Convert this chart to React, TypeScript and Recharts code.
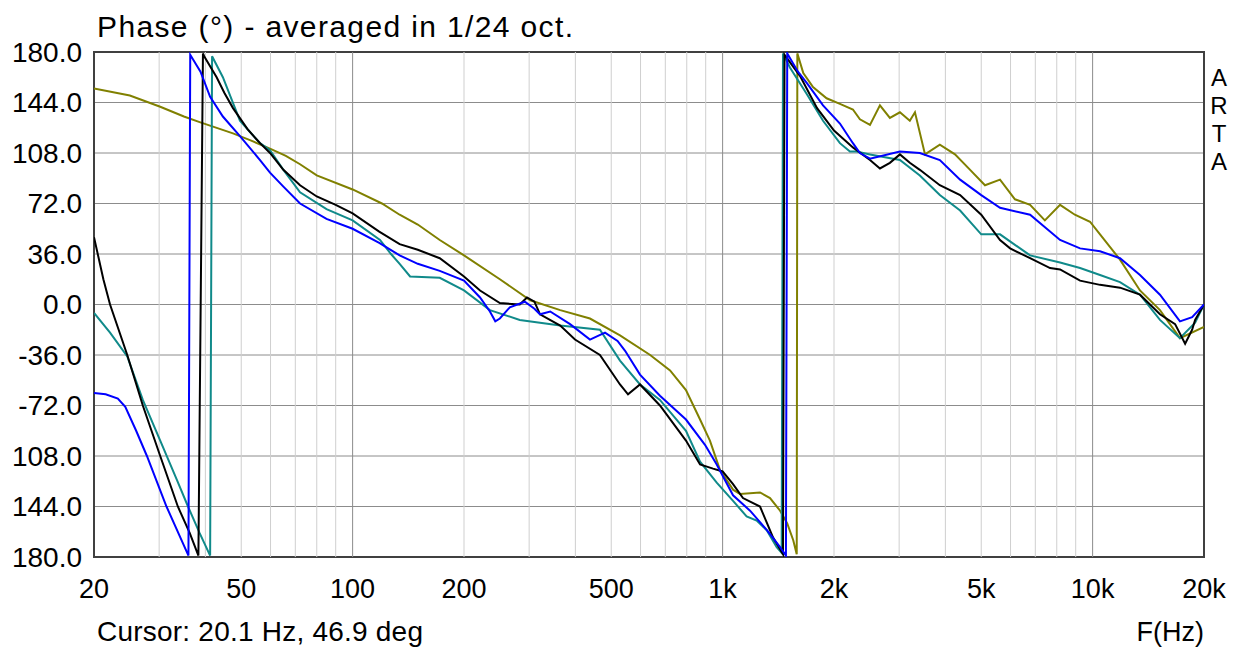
import {
  LineChart,
  Line,
  XAxis,
  YAxis,
  CartesianGrid,
  ReferenceLine,
  ReferenceArea,
} from "recharts";

const FONT = '"Liberation Sans", Arial, sans-serif';

// frequency (Hz), phase (deg)
const blackPts: [number, number][] = [
  [20, 48], [21.2, 18], [22.1, 0], [24.6, -36], [27.1, -72], [30.2, -108],
  [33.7, -144], [36.3, -163], [38.3, -179], [39.4, 179], [39.7, 177],
  [42.9, 162], [45, 151], [47.5, 140], [52, 125], [56.2, 115], [59.8, 108],
  [65, 96], [72.1, 85], [80, 77], [90, 71], [100, 65], [118, 52], [134, 43],
  [150, 39], [172, 33], [200, 20], [221, 10], [250, 1], [283, 0],
  [296, 5], [310, 2], [321, -7], [364, -15], [399, -25], [466, -36],
  [528, -57], [555, -64], [598, -57], [677, -72], [796, -97], [869, -114],
  [942, -117], [1000, -119], [1067, -128], [1135, -138], [1262, -144],
  [1319, -156], [1368, -166], [1456, -178], [1470, 178], [1618, 163],
  [1800, 140], [2000, 124], [2250, 112], [2502, 103], [2662, 97],
  [2832, 101], [3014, 107], [3206, 101], [3412, 96], [3864, 85],
  [4384, 78], [5000, 64], [5620, 46], [5984, 40], [6776, 33], [7674, 26],
  [8166, 25], [9248, 17], [10472, 14], [11858, 12], [13428, 7], [15206, -7],
  [16708, -14], [17784, -28], [18578, -18], [18924, -11], [20000, 0],
];

const bluePts: [number, number][] = [
  [20, -63], [21.5, -64], [23.2, -67], [24.3, -73], [26, -90], [27.8, -108],
  [31.4, -144], [36.0, -179], [36.4, 178], [38.8, 166], [41.2, 148],
  [44.6, 134], [49.6, 120], [56.2, 103], [59.8, 94], [65, 84], [72.1, 72],
  [85, 61], [100, 54], [118, 44], [134, 35], [150, 29], [172, 24], [200, 17],
  [221, 5], [235, -5], [243, -12],
  [250, -10], [266, -2], [292, 2], [310, -3], [321, -7], [342, -5],
  [387, -14], [438, -25], [481, -20], [520, -26], [545, -33], [598, -50],
  [677, -65], [796, -82], [896, -100], [964, -114], [1067, -136],
  [1186, -147], [1319, -161], [1430, -173], [1483, -179], [1495, 179],
  [1598, 166], [1688, 158], [1868, 142], [2075, 129], [2250, 115],
  [2350, 108], [2502, 104], [3014, 109], [3412, 108], [3864, 103],
  [4384, 89], [5000, 78], [5620, 69], [6776, 64], [8166, 46], [9248, 40],
  [10472, 38], [11858, 33], [13428, 21], [15206, 7], [17220, -12],
  [18578, -9], [20000, 0],
];

const tealPts: [number, number][] = [
  [20, -6], [22.1, -20], [24.6, -37], [27.1, -68], [30.2, -97], [33.5, -125],
  [35.9, -144], [38.6, -163], [41.2, -179], [41.7, 177], [44.6, 162],
  [49.6, 131], [56.2, 115], [59.8, 110], [65, 96], [72.1, 80], [85, 68],
  [100, 60], [118.6, 46], [127, 36], [134, 29], [143, 20], [172, 19],
  [200, 10], [235, -4], [283, -11],
  [364, -15], [466, -18], [528, -40], [598, -57], [677, -68], [796, -90],
  [869, -112], [964, -127], [1067, -140], [1161, -151], [1236, -154],
  [1316, -161], [1400, -173], [1444, -177], [1456, 179], [1520, 169],
  [1688, 150], [1868, 131], [2075, 115], [2208, 109], [2302, 109],
  [2502, 107], [3014, 103], [3412, 92], [3864, 78], [4384, 67], [5000, 50],
  [5620, 50], [6776, 35], [8166, 30], [9248, 26], [10472, 21], [11858, 16],
  [13428, 7], [15206, -11], [17220, -24], [18924, -13], [20000, 0],
];

const olivePts: [number, number][] = [
  [20, 154], [25, 149], [30.2, 141], [35, 134], [38.6, 130], [47.5, 122],
  [53, 117], [60, 111], [66, 106], [72.1, 100], [80, 92], [100, 82],
  [120, 72], [134, 64], [150, 57], [172, 46], [200, 35], [250, 18],
  [302, 3], [364, -4], [438, -10], [528, -22], [637, -36], [721, -47],
  [796, -61], [869, -82], [924, -97], [984, -118], [1067, -132],
  [1114, -135], [1262, -134], [1343, -138], [1430, -147], [1495, -156],
  [1552, -168], [1586, -178], [1592, 179], [1652, 165], [1755, 155],
  [1910, 147], [2075, 143], [2250, 139], [2350, 132], [2502, 128],
  [2662, 142], [2832, 133], [3014, 137], [3206, 131], [3310, 137],
  [3524, 107], [3864, 114], [4246, 107], [4666, 96], [5118, 85],
  [5620, 89], [6168, 75], [6776, 71], [7430, 60], [8166, 71], [8954, 64],
  [9840, 59], [10472, 50], [11858, 32], [13428, 10], [15206, -4],
  [17220, -24], [20000, -16],
];

const xTicks = [20, 50, 100, 200, 500, 1000, 2000, 5000, 10000, 20000];
const xTickLabels = ["20", "50", "100", "200", "500", "1k", "2k", "5k", "10k", "20k"];
const yTicks = [-180, -144, -108, -72, -36, 0, 36, 72, 108, 144, 180];
const yTickLabels = ["180.0", "144.0", "108.0", "-72.0", "-36.0", "0.0", "36.0", "72.0", "108.0", "144.0", "180.0"];
const minorGridHz = [
  30, 40, 50, 60, 70, 80, 90, 200, 300, 400, 500, 600, 700, 800, 900,
  2000, 3000, 4000, 5000, 6000, 7000, 8000, 9000,
];
const majorGridHz = [100, 1000, 10000];
const brandLetters = ["A", "R", "T", "A"];

const toRows = (pts: [number, number][]) => pts.map(([hz, deg]) => ({ hz, deg }));

const series = [
  { name: "olive", color: "#808000", rows: toRows(olivePts) },
  { name: "teal", color: "#108a8a", rows: toRows(tealPts) },
  { name: "black", color: "#000000", rows: toRows(blackPts) },
  { name: "blue", color: "#0000ff", rows: toRows(bluePts) },
];

export default function App() {
  return (
    <div
      style={{
        position: "absolute",
        left: 0,
        top: 0,
        width: 1239,
        height: 648,
        background: "#fff",
        fontFamily: FONT,
      }}
    >
      <LineChart
        width={1239}
        height={648}
        margin={{ top: 52, right: 35, bottom: 0, left: 0 }}
      >
        <CartesianGrid vertical={false} stroke="#8c8c8c" strokeWidth={1} />
        {minorGridHz.map((f) => (
          <ReferenceLine key={`mi${f}`} x={f} stroke="#cfcfcf" strokeWidth={1} />
        ))}
        {majorGridHz.map((f) => (
          <ReferenceLine key={`ma${f}`} x={f} stroke="#8c8c8c" strokeWidth={1} />
        ))}
        <XAxis
          dataKey="hz"
          type="number"
          scale="log"
          domain={[20, 20000]}
          allowDataOverflow
          ticks={xTicks}
          tickFormatter={(v: number) => xTickLabels[xTicks.indexOf(v)] ?? ""}
          height={91}
          axisLine={false}
          tickLine={false}
          tickSize={0}
          tickMargin={22}
          interval={0}
          tick={{ fontSize: 27, fill: "#000", fontFamily: FONT }}
        />
        <YAxis
          type="number"
          domain={[-180, 180]}
          allowDataOverflow
          ticks={yTicks}
          tickFormatter={(v: number) => yTickLabels[yTicks.indexOf(v)] ?? ""}
          width={94}
          axisLine={false}
          tickLine={false}
          tickSize={0}
          tickMargin={12}
          interval={0}
          tick={{ fontSize: 28, fill: "#000", fontFamily: FONT }}
        />
        <ReferenceArea
          x1={20}
          x2={20000}
          y1={-180}
          y2={180}
          fill="none"
          stroke="#404040"
          strokeWidth={2}
          fillOpacity={0}
        />
        {series.map((s) => (
          <Line
            key={s.name}
            data={s.rows}
            dataKey="deg"
            type="linear"
            stroke={s.color}
            strokeWidth={2}
            dot={false}
            activeDot={false}
            isAnimationActive={false}
          />
        ))}
      </LineChart>
      <svg
        width={1239}
        height={648}
        style={{ position: "absolute", left: 0, top: 0, pointerEvents: "none" }}
      >
        <text
          x={97}
          y={37}
          fontSize={30}
          fontFamily={FONT}
          fill="#000"
          textLength={476}
          lengthAdjust="spacing"
        >
          Phase (°) - averaged in 1/24 oct.
        </text>
        <text
          x={97}
          y={641}
          fontSize={28}
          fontFamily={FONT}
          fill="#000"
          textLength={326}
          lengthAdjust="spacing"
        >
          Cursor: 20.1 Hz, 46.9 deg
        </text>
        <text x={1204} y={641} fontSize={27} fontFamily={FONT} fill="#000" textAnchor="end">
          F(Hz)
        </text>
        {brandLetters.map((ch, i) => (
          <text
            key={i}
            x={1219}
            y={86 + i * 28}
            fontSize={24}
            fontFamily={FONT}
            fill="#000"
            textAnchor="middle"
          >
            {ch}
          </text>
        ))}
      </svg>
    </div>
  );
}
